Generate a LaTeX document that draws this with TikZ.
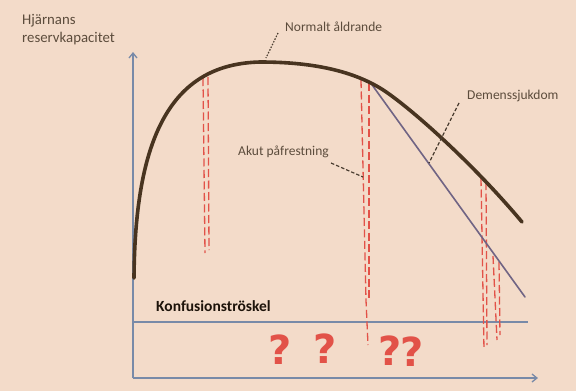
\documentclass[tikz,border=0pt]{standalone}
\usepackage{fontspec}
\setmainfont{Carlito}
\newfontfamily\qfont{DejaVu Sans}
\usetikzlibrary{arrows.meta}
\definecolor{bgc}{RGB}{243,219,201}
\definecolor{curvec}{RGB}{72,52,32}
\definecolor{demc}{RGB}{112,100,132}
\definecolor{axisc}{RGB}{120,138,168}
\definecolor{redc}{RGB}{226,82,72}
\definecolor{txtc}{RGB}{92,76,60}
\tikzset{
  axisline/.style={draw=axisc, line width=1.3pt, -{Straight Barb[length=5pt,width=8pt]}},
  threshline/.style={draw=axisc, line width=1.1pt},
  mainc/.style={draw=curvec, line width=3.6pt, line cap=round},
  demline/.style={draw=demc, line width=1.6pt, line cap=round},
  reddash/.style={draw=redc, line width=1.3pt, dash pattern=on 8pt off 3.5pt},
  lbl/.style={text=txtc, font=\fontsize{13.5}{16}\selectfont, inner sep=0pt},
  ylbl/.style={text=txtc, font=\fontsize{14.8}{18}\selectfont, inner sep=0pt, anchor=west},
  leader/.style={draw=txtc!80!black, line width=1.2pt, dash pattern=on 3.5pt off 2pt},
  qmark/.style={text=redc, font=\qfont\bfseries\fontsize{40}{40}\selectfont, inner sep=0pt}
}
\begin{document}
\begin{tikzpicture}[x=1pt,y=-1pt]
\fill[bgc] (0,0) rectangle (576,391);
\useasboundingbox (0,0) rectangle (576,391);
% axes
\coordinate (o) at (133,378);
\coordinate (ytop) at (133,52);
\coordinate (xend) at (538,378);
\draw[axisline] (o) -- (ytop);
\draw[axisline] (o) -- (xend);
% threshold
\coordinate (t0) at (133,322);
\coordinate (t1) at (528,322);
\draw[threshline] (t0) -- (t1);
\node[lbl, anchor=west, font=\bfseries\fontsize{15.5}{18}\selectfont, text=black!85!brown] (konf) at (156,306) {Konfusionströskel};
% red dashed lines
\draw[reddash] (203,78) -- (205,253);
\draw[reddash] (208,77) -- (209,250);
\draw[reddash] (361,80) -- (366,300) -- (368,345);
\draw[reddash] (369,83) -- (369,300);
\draw[reddash] (481,178) -- (484,350);
\draw[reddash] (486,182) -- (487,345);
\draw[reddash] (493,256) -- (497,340);
\draw[reddash] (499,262) -- (500,335);
% dementia line
\coordinate (d0) at (370,82);
\coordinate (d1) at (525,297);
\draw[demline] (d0) -- (d1);
% main curve
\draw[mainc] (134,278) .. controls (135,130) and (175,64) .. (260,62)
  .. controls (310,62) and (350,70) .. (380,88)
  .. controls (405,103) and (470,160) .. (522,222);
% labels
\node[ylbl] (ylab1) at (22,21) {Hjärnans};
\node[ylbl] (ylab2) at (22,39) {reservkapacitet};
\node[lbl, anchor=west] (norm) at (285,27) {Normalt åldrande};
\node[lbl, anchor=west] (dem) at (467,96) {Demenssjukdom};
\node[lbl, anchor=west] (akut) at (238,152) {Akut påfrestning};
\coordinate (nl) at (266,58);
\coordinate (dl) at (429,163);
\coordinate (al) at (363,177);
\draw[leader, dash pattern=on 1.5pt off 1.5pt] (278,33) -- (nl);
\draw[leader] (459,103) -- (dl);
\draw[leader] (331,163) -- (al);
% question marks
\node[qmark] (q1) at (280,350) {?};
\node[qmark] (q2) at (325,349) {?};
\node[qmark] (q3) at (390,351) {?};
\node[qmark] (q4) at (412,352) {?};
\end{tikzpicture}
\end{document}
